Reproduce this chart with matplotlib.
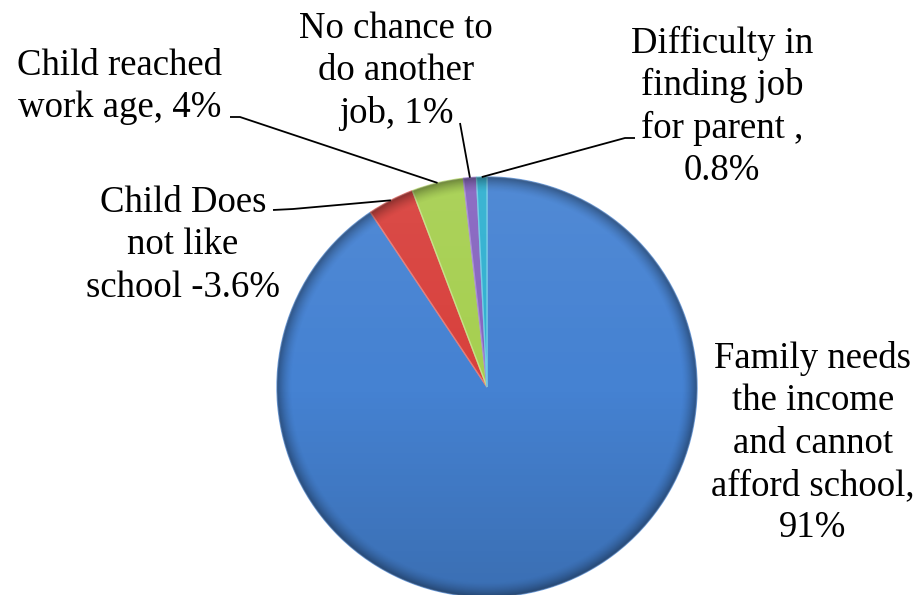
import numpy as np
import matplotlib
matplotlib.use("Agg")
import matplotlib.pyplot as plt
from matplotlib.patches import Circle

plt.rcParams["font.family"] = "serif"
plt.rcParams["font.serif"] = ["Liberation Serif", "DejaVu Serif"]

# ---- data ----
categories = ["Family needs the income and cannot afford school",
              "Child Does not like school",
              "Child reached work age",
              "No chance to do another job",
              "Difficulty in finding job for parent"]
values = [91, 3.6, 4, 1, 0.8]
label_lines = [
    ["Family needs", "the income", "and cannot", "afford school,", "91%"],
    ["Child Does", "not like", "school -3.6%"],
    ["Child reached", "work age, 4%"],
    ["No chance to", "do another", "job, 1%"],
    ["Difficulty in", "finding job", "for parent ,", "0.8%"],
]
colors = ["#4582d2", "#d8403c", "#a6cf50", "#8664c0", "#30b0d0"]
edge_colors = ["#6fa0e0", "#e87a76", "#c4e286", "#a68ad6", "#70cce4"]

# ---- layout (pixels, y from top) ----
W, H = 924, 595
CX, CY, R = 487, 387, 210
label_pos = [(813, 368), (183, 212), (120, 75), (396, 38), (722, 53)]
leader_pts = [None,
              [(273, 210), (293, 209)],
              [(230, 117), (240, 117)],
              [(460, 123)],
              [(635, 138), (625, 138)]]
PITCH = 42.3
FS = 26.5

fig = plt.figure(figsize=(W / 100, H / 100), dpi=100)
ax = fig.add_axes([0, 0, 1, 1])

def Y(y):
    return H - y

wedges, _ = ax.pie(values, colors=colors, startangle=90, counterclock=False,
                   center=(CX, Y(CY)), radius=R,
                   wedgeprops=dict(linewidth=1.0))
for w, ec in zip(wedges, edge_colors):
    w.set_edgecolor(ec)

ax.set_xlim(0, W)
ax.set_ylim(0, H)
ax.set_aspect("equal")
ax.axis("off")

# shading overlays (vertical gradient + darker rim)
n = 400
xs = np.linspace(-1, 1, n)
XX, YY = np.meshgrid(xs, xs)
RR = np.sqrt(XX ** 2 + YY ** 2)
t = (YY + 1) / 2
grad = np.zeros((n, n, 4))
light = t > 0.5
grad[..., :3] = np.where(light[..., None], 1.0, 0.0)
grad[..., 3] = np.abs(t - 0.5) * np.where(light, 0.14, 0.30)
rim = np.zeros((n, n, 4))
rim[..., 3] = np.clip((RR - 0.93) / 0.07, 0, 1) ** 1.5 * 0.35
ext = [CX - R, CX + R, Y(CY) - R, Y(CY) + R]
for img in (grad, rim):
    im = ax.imshow(img, extent=ext, origin="lower", zorder=3, interpolation="bilinear")
    clip = Circle((CX, Y(CY)), R, transform=ax.transData)
    im.set_clip_path(clip)
ax.set_xlim(0, W)
ax.set_ylim(0, H)

# labels (figure-level text, positioned in figure fraction)
for lines, (lx, ly) in zip(label_lines, label_pos):
    for i, s in enumerate(lines):
        fig.text(lx / W, Y(ly + i * PITCH) / H, s, ha="center", va="baseline",
                 fontsize=FS, family="Liberation Serif", color="black", zorder=5)

# leader lines ending at wedge mid-angle on the rim
for w, pts in zip(wedges, leader_pts):
    if pts is None:
        continue
    mid = np.deg2rad((w.theta1 + w.theta2) / 2)
    ex = CX + R * np.cos(mid)
    ey = Y(CY) + R * np.sin(mid)
    xs_ = [p[0] for p in pts] + [ex]
    ys_ = [Y(p[1]) for p in pts] + [ey]
    ax.plot(xs_, ys_, color="black", lw=1.3, zorder=6, solid_capstyle="butt")

fig.savefig("out.png", dpi=100)
